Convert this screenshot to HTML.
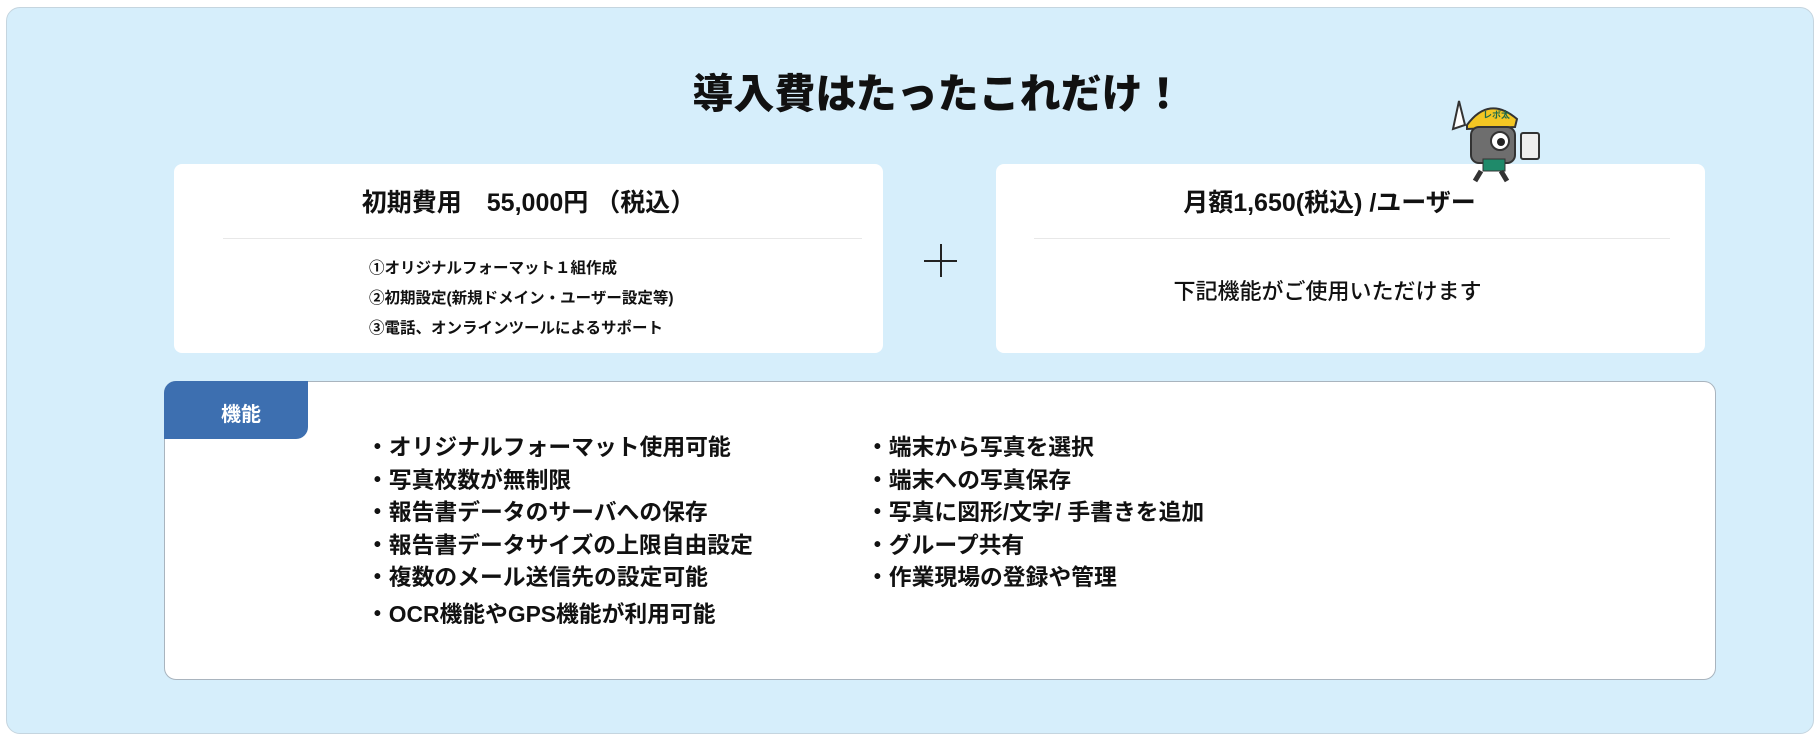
<!DOCTYPE html>
<html><head><meta charset="utf-8"><style>
body{margin:0;width:1820px;height:738px;background:#fff;font-family:"Liberation Sans","Noto Sans CJK JP",sans-serif;position:relative;overflow:hidden;color:#111}
.a{position:absolute}
.panel{left:6px;top:7px;width:1808px;height:727px;background:#d6eefb;border:1px solid #c5d5df;border-radius:14px;box-sizing:border-box}
.card{background:#fff;border-radius:8px;top:164px;width:709px;height:189px}
.t{font-weight:bold;white-space:nowrap}
</style></head><body>
<div class="a panel"></div>
<div class="a t" style="left:0;width:1876px;text-align:center;top:60px;font-size:41px;font-weight:900">導入費はたったこれだけ！</div>
<div class="a card" style="left:174px"></div>
<div class="a card" style="left:996px"></div>
<div class="a t" style="left:174px;width:709px;text-align:center;top:183px;font-size:25px">初期費用　55,000円 （税込）</div>
<div class="a" style="left:223px;top:238px;width:639px;height:1px;background:#e8e8e8"></div>
<div class="a t" style="left:369px;top:254px;font-size:15.5px;line-height:30px">①オリジナルフォーマット１組作成<br>②初期設定(新規ドメイン・ユーザー設定等)<br>③電話、オンラインツールによるサポート</div>
<div class="a" style="left:924px;top:260px;width:33px;height:2px;background:#222"></div>
<div class="a" style="left:940px;top:244px;width:2px;height:33px;background:#222"></div>
<div class="a t" style="left:975px;width:709px;text-align:center;top:183px;font-size:25px">月額1,650(税込) /ユーザー</div>
<div class="a" style="left:1034px;top:238px;width:636px;height:1px;background:#e8e8e8"></div>
<div class="a" style="left:996px;width:663px;text-align:center;top:274px;font-size:22px;font-weight:500">下記機能がご使用いただけます</div>
<svg class="a" style="left:1445px;top:95px" width="100" height="88" viewBox="0 0 100 88">
<path d="M22 30 Q44 0 72 24 L70 32 L22 34Z" fill="#f3c623" stroke="#333" stroke-width="2"/>
<rect x="26" y="32" width="44" height="36" rx="8" fill="#6e6e6e" stroke="#333" stroke-width="2"/>
<circle cx="55" cy="46" r="9" fill="#fff" stroke="#333" stroke-width="2"/><circle cx="56" cy="47" r="4" fill="#222"/>
<rect x="38" y="64" width="22" height="12" fill="#1f8a6a" stroke="#333"/>
<rect x="76" y="38" width="18" height="26" rx="2" fill="#eee" stroke="#333" stroke-width="2"/>
<path d="M8 34 L14 6 L20 30Z" fill="#fff" stroke="#333" stroke-width="2"/>
<path d="M36 76 L30 86 M56 76 L62 86" stroke="#333" stroke-width="5"/>
<text x="38" y="23" font-size="9" font-weight="bold" fill="#1f6a4a" font-family="Noto Sans CJK JP,sans-serif">レポ太</text>
</svg>
<div class="a" style="left:164px;top:381px;width:1552px;height:299px;background:#fff;border:1.5px solid #a9b4be;border-radius:12px;box-sizing:border-box"></div>
<div class="a" style="left:164px;top:381px;width:144px;height:58px;background:#3d6fb0;border-radius:12px 0 12px 0"></div>
<div class="a t" style="left:169px;width:144px;text-align:center;top:398px;font-size:20px;color:#fff">機能</div>
<div class="a t" style="left:366px;top:431px;font-size:22.8px;line-height:32.5px">・オリジナルフォーマット使用可能<br>・写真枚数が無制限<br>・報告書データのサーバへの保存<br>・報告書データサイズの上限自由設定<br>・複数のメール送信先の設定可能<br><span style="display:block;margin-top:4px">・OCR機能やGPS機能が利用可能</span></div>
<div class="a t" style="left:866px;top:431px;font-size:22.8px;line-height:32.5px">・端末から写真を選択<br>・端末への写真保存<br>・写真に図形/文字/ 手書きを追加<br>・グループ共有<br>・作業現場の登録や管理</div>
</body></html>
